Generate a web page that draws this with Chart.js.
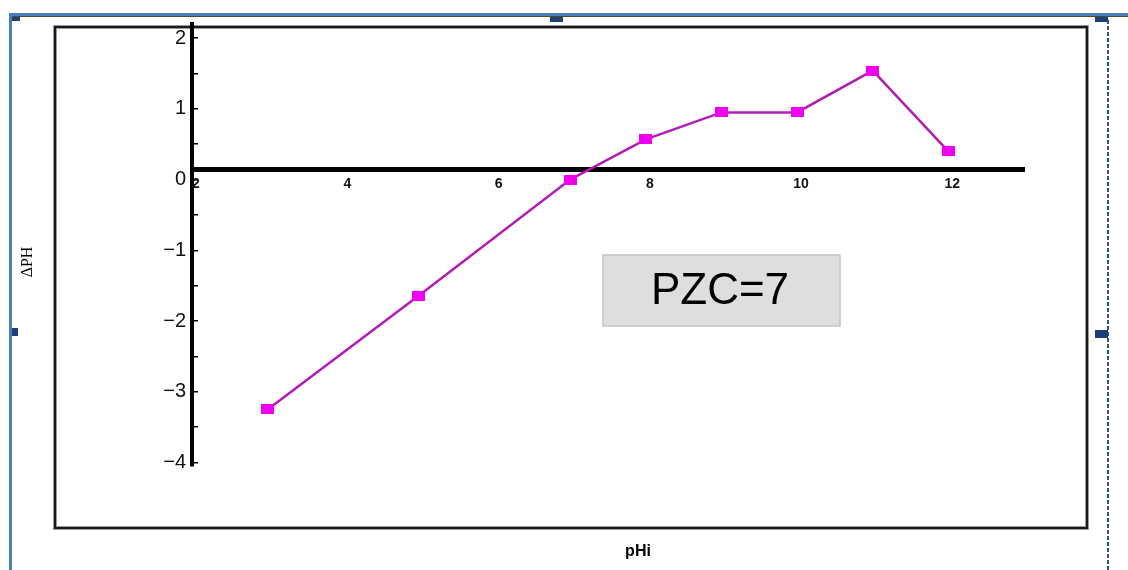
<!DOCTYPE html>
<html>
<head>
<meta charset="utf-8">
<script src="https://cdn.jsdelivr.net/npm/chart.js@4.4.1/dist/chart.umd.min.js"></script>
<style>
  html, body { margin: 0; padding: 0; background: #fff; }
  canvas { display: block; }
</style>
</head>
<body>
<canvas id="pzcChart" width="1128" height="570"></canvas>
<script>
// datos
const phInicial = [3, 5, 7, 8, 9, 10, 11, 12];
const deltaPH = [-3.25, -1.64, 0.0, 0.57, 0.95, 0.95, 1.54, 0.4];
const xTicks = [2, 4, 6, 8, 10, 12];
const yTicks = [-4, -3.5, -3, -2.5, -2, -1.5, -1, -0.5, 0, 0.5, 1, 1.5, 2];
const etiquetaPZC = 'PZC=7';
const tituloX = 'pHi';
const tituloY = 'ΔPH';

// marcador rectangular un poco más ancho que alto
const marcador = document.createElement('canvas');
marcador.width = 13;
marcador.height = 10;
(function() {
  const m = marcador.getContext('2d');
  m.fillStyle = '#f000f0';
  m.fillRect(0, 0, 13, 10);
})();

// marcos, asas y cuadro de texto
const marcoPlugin = {
  id: 'marco',
  beforeDraw(chart) {
    const c = chart.ctx;
    c.save();
    // borde azul exterior
    c.fillStyle = '#4a7ebb';
    c.fillRect(9, 13, 1119, 3);
    c.fillRect(9, 13, 3, 557);
    c.fillStyle = '#4f4a2a';
    c.fillRect(12, 16, 1116, 1);
    // linea punteada derecha
    c.strokeStyle = '#3a4f7a';
    c.lineWidth = 2;
    c.setLineDash([4, 2]);
    c.beginPath();
    c.moveTo(1108, 20);
    c.lineTo(1108, 570);
    c.stroke();
    c.setLineDash([]);
    // asas
    c.fillStyle = '#1f3f7a';
    c.fillRect(12, 17, 8, 4);
    c.fillRect(550, 17, 13, 5);
    c.fillRect(1095, 17, 13, 5);
    c.fillRect(12, 328, 6, 8);
    c.fillRect(1095, 330, 13, 8);
    // marco interior
    c.strokeStyle = '#9a9a9a';
    c.lineWidth = 4;
    c.strokeRect(55, 27, 1032, 501);
    c.strokeStyle = '#1a1a1a';
    c.lineWidth = 2;
    c.strokeRect(55, 27, 1032, 501);
    c.restore();
  },
  afterDraw(chart) {
    const c = chart.ctx;
    c.save();
    // cuadro PZC
    c.fillStyle = '#dedede';
    c.fillRect(603, 255, 237, 71);
    c.strokeStyle = '#c4c4c4';
    c.lineWidth = 1.5;
    c.strokeRect(603, 255, 237, 71);
    c.fillStyle = '#000';
    c.font = '44px "Liberation Sans", Arial, sans-serif';
    c.textAlign = 'center';
    c.textBaseline = 'middle';
    c.fillText(etiquetaPZC, 720, 292);
    // titulos de ejes
    c.font = 'bold 16px "Liberation Sans", Arial, sans-serif';
    c.fillText(tituloX, 638, 552);
    c.translate(28, 262);
    c.rotate(-Math.PI / 2);
    c.font = '16px "Liberation Serif", "Times New Roman", serif';
    c.fillText(tituloY, 0, 0);
    c.restore();
  }
};

const ctx = document.getElementById('pzcChart').getContext('2d');
new Chart(ctx, {
  type: 'scatter',
  data: {
    datasets: [{
      label: 'ΔpH',
      data: phInicial.map((x, i) => ({x: x, y: deltaPH[i]})),
      showLine: true,
      borderColor: '#b21cb2',
      borderWidth: 2.5,
      backgroundColor: '#f000f0',
      pointStyle: marcador,
      pointRadius: 6,
      pointHoverRadius: 6,
      tension: 0
    }]
  },
  options: {
    responsive: false,
    animation: false,
    events: [],
    layout: {padding: {left: 117, right: 104, top: 24, bottom: 104}},
    plugins: {
      legend: {display: false},
      tooltip: {enabled: false}
    },
    scales: {
      x: {
        type: 'linear',
        min: 2,
        max: 13,
        position: {y: 0.14},
        afterBuildTicks: s => { s.ticks = xTicks.map(v => ({value: v})); },
        grid: {display: true, drawOnChartArea: false, drawTicks: false},
        border: {display: true, color: '#000', width: 5},
        ticks: {
          color: '#111',
          padding: 6,
          labelOffset: 4,
          font: {family: '"Liberation Sans", Arial, sans-serif', size: 14, weight: 'bold'}
        }
      },
      y: {
        type: 'linear',
        min: -4.05,
        max: 2.2,
        position: 'left',
        afterBuildTicks: s => { s.ticks = yTicks.map(v => ({value: v})); },
        afterFit: s => { s.width = 75; },
        grid: {drawOnChartArea: false, drawTicks: true, tickLength: -6, color: '#000', lineWidth: 1.5},
        border: {display: true, color: '#000', width: 4},
        ticks: {
          color: '#111',
          padding: 12,
          autoSkip: false,
          font: {family: '"Liberation Sans", Arial, sans-serif', size: 20},
          callback: v => Number.isInteger(v) ? String(v).replace('-', '\u2212') : ''
        }
      }
    }
  },
  plugins: [marcoPlugin]
});
</script>
</body>
</html>
